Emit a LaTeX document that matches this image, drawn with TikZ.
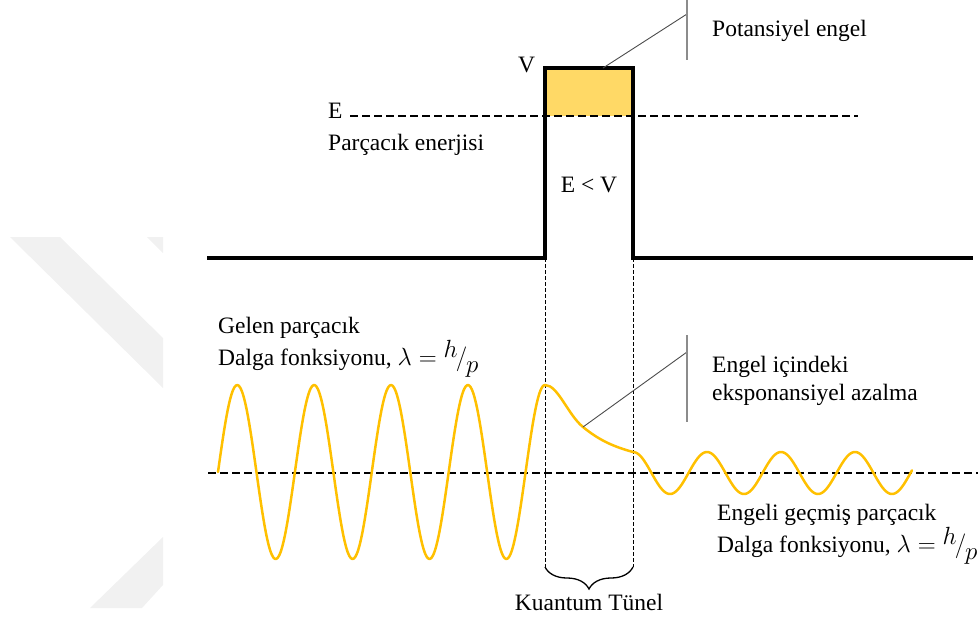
\documentclass[tikz,border=0pt]{standalone}
\usepackage{fontspec}
\setmainfont{Liberation Serif}
\usetikzlibrary{decorations.pathreplacing}
\definecolor{wave}{HTML}{FFC000}
\definecolor{barfill}{HTML}{FFD966}
\definecolor{wm}{HTML}{F1F1F1}
\newcommand{\hoverp}{$\lambda = \raisebox{.32em}{$h$}\kern-.08em/\kern-.04em\raisebox{-.3em}{$p$}$}
\begin{document}
\begin{tikzpicture}[x=1pt,y=-1pt,
  lbl/.style={inner sep=0pt, anchor=base west, font=\fontsize{23.5}{28}\selectfont},
  barrier/.style={line width=4pt, line join=miter},
  edash/.style={line width=2.3pt, dash pattern=on 8pt off 4pt},
  vdash/.style={line width=1pt, dash pattern=on 4pt off 2pt},
  leader/.style={draw=black!70, line width=0.9pt},
  ticks/.style={draw=black!45, line width=1.5pt},
  wavestyle/.style={draw=wave, line width=2.5pt, line cap=round, line join=round}]
\useasboundingbox (0,0) rectangle (978,619);
% faint watermark
\fill[wm] (10,237) -- (60,237) -- (163,338) -- (163,388) -- cycle;
\fill[wm] (147,237) -- (163,237) -- (163,253) -- cycle;
\fill[wm] (163,537) -- (163,585) -- (142,608) -- (90,608) -- cycle;
% barrier fill above E
\fill[barfill] (545,68) rectangle (633,116);
% energy line and axis
\draw[edash] (350,116) -- (858,116);
\draw[edash] (208,473) -- (978,473);
% tunnel guides and brace
\coordinate (bl) at (545,258);
\coordinate (br) at (633,258);
\coordinate (bl2) at (545,567);
\coordinate (br2) at (633,567);
\draw[vdash] (bl) -- (bl2);
\draw[vdash] (br) -- (br2);
\draw[line width=1.3pt, decorate, decoration={brace, mirror, amplitude=22pt}] (bl2) -- (br2);
% potential barrier
\draw[barrier] (207,258) -- (bl) -- (545,68) -- (633,68) -- (br) -- (973,258);
% waves
\draw[wavestyle] plot[domain=218:545, samples=220, smooth] (\x, {472 - 87*sin((\x-218)/76.9*360)});
\coordinate (w0) at (545,385);
\coordinate (wm1) at (583,427);
\coordinate (w1) at (633,452);
\draw[wavestyle] (w0) .. controls (558,385) and (568,415) .. (wm1) .. controls (600,441) and (615,447) .. (w1);
\draw[wavestyle] plot[domain=633:912, samples=200, smooth] (\x, {473 - 21*cos((\x-633)/74*360)});
% labels
\node[lbl] (V) at (518,72.7) {V};
\node[lbl] (E) at (328,118) {E};
\node[lbl] (pe) at (328,150) {Parçacık enerjisi};
\node[lbl, anchor=base] (EV) at (589,192) {E < V};
\node[lbl] (pot) at (712,36.5) {Potansiyel engel};
\node[lbl] (gel1) at (218,333) {Gelen parçacık};
\node[lbl] (gel2) at (218,365) {Dalga fonksiyonu, \hoverp};
\node[lbl] (ei1) at (712,372) {Engel içindeki};
\node[lbl] (ei2) at (712,400) {eksponansiyel azalma};
\node[lbl] (eg1) at (717,520) {Engeli geçmiş parçacık};
\node[lbl] (eg2) at (717,552) {Dalga fonksiyonu, \hoverp};
\node[lbl, anchor=base] (kt) at (589,610) {Kuantum Tünel};
% leaders
\coordinate (pa) at (603,68);
\coordinate (pb) at (687,14);
\coordinate (pt1) at (687,0);
\coordinate (pt2) at (687,60);
\draw[leader] (pa) -- (pb);
\draw[ticks] (pt1) -- (pt2);
\coordinate (qb) at (687,352);
\coordinate (qt1) at (687,335);
\coordinate (qt2) at (687,422);
\draw[leader] (wm1) -- (qb);
\draw[ticks] (qt1) -- (qt2);
\end{tikzpicture}
\end{document}
